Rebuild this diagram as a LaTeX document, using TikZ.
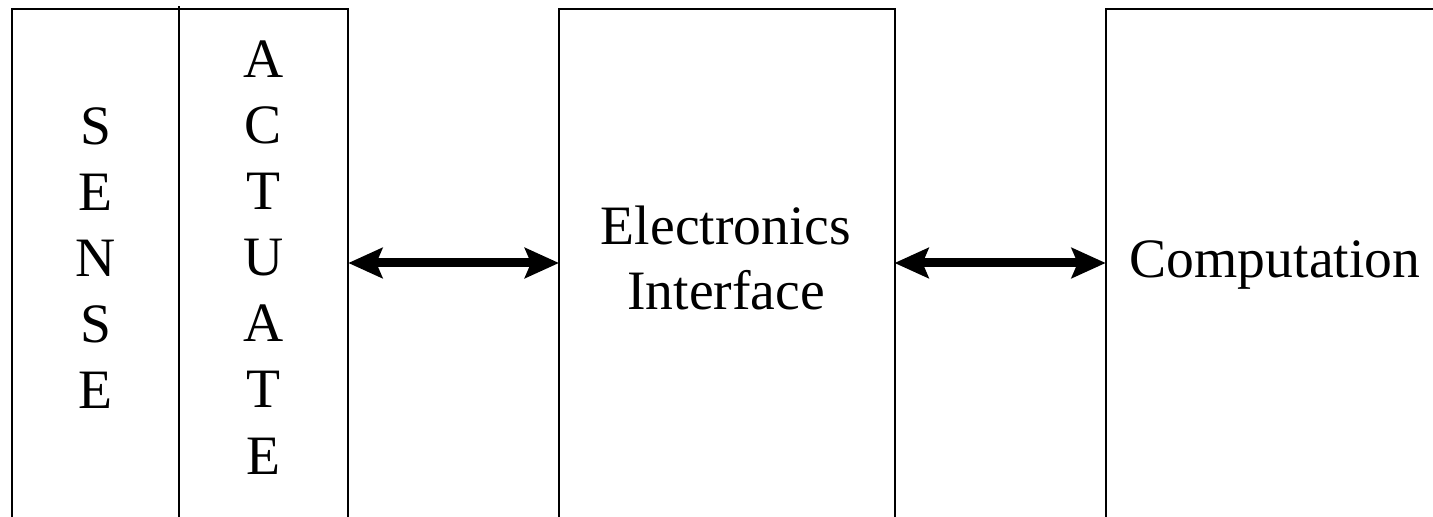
\documentclass[tikz,border=0pt]{standalone}
\usepackage{fontspec}
\setmainfont{Liberation Serif}
\usetikzlibrary{arrows.meta}
\begin{document}
\begin{tikzpicture}[x=0.5pt,y=-0.5pt,
  blk/.style={draw=black,line width=1pt,rectangle,inner sep=0pt,outer sep=0pt,minimum height=260.25pt},
  lbl/.style={anchor=base,inner sep=0pt,font=\fontsize{27.8}{33}\selectfont},
  tip/.tip={Stealth[length=17pt,width=15pt,inset=3pt]},
  dbl/.style={line width=4.5pt,tip-tip}]
\useasboundingbox (0,0) rectangle (1433,517);
\clip (0,0) rectangle (1433,517);
\node[blk,minimum width=83.5pt] (sense) at (95.8,269.75) {};
\node[blk,minimum width=84.5pt] (actuate) at (263.8,269.75) {};
\node[blk,minimum width=167.75pt] (elec) at (726.75,269.75) {};
\node[blk,minimum width=169.15pt] (comp) at (1274.85,269.75) {};
\draw[line width=1pt] (sense.north east) -- ++(0,-3);
\foreach \l [count=\i] in {S,E,N,S,E}
  \node[lbl] (s\i) at (95.5,{145+66*(\i-1)}) {\l};
\foreach \l [count=\i] in {A,C,T,U,A,T,E}
  \node[lbl] (a\i) at (263.5,{78+66*(\i-1)}) {\l};
\node[lbl] (elec1) at (726,245) {Electronics};
\node[lbl] (elec2) at (726,310) {Interface};
\node[lbl] (comptext) at (1275,278) {Computation};
\coordinate (ay) at (0,263);
\draw[dbl] (actuate.east |- ay) -- (elec.west |- ay);
\draw[dbl] (elec.east |- ay) -- (comp.west |- ay);
\end{tikzpicture}
\end{document}
